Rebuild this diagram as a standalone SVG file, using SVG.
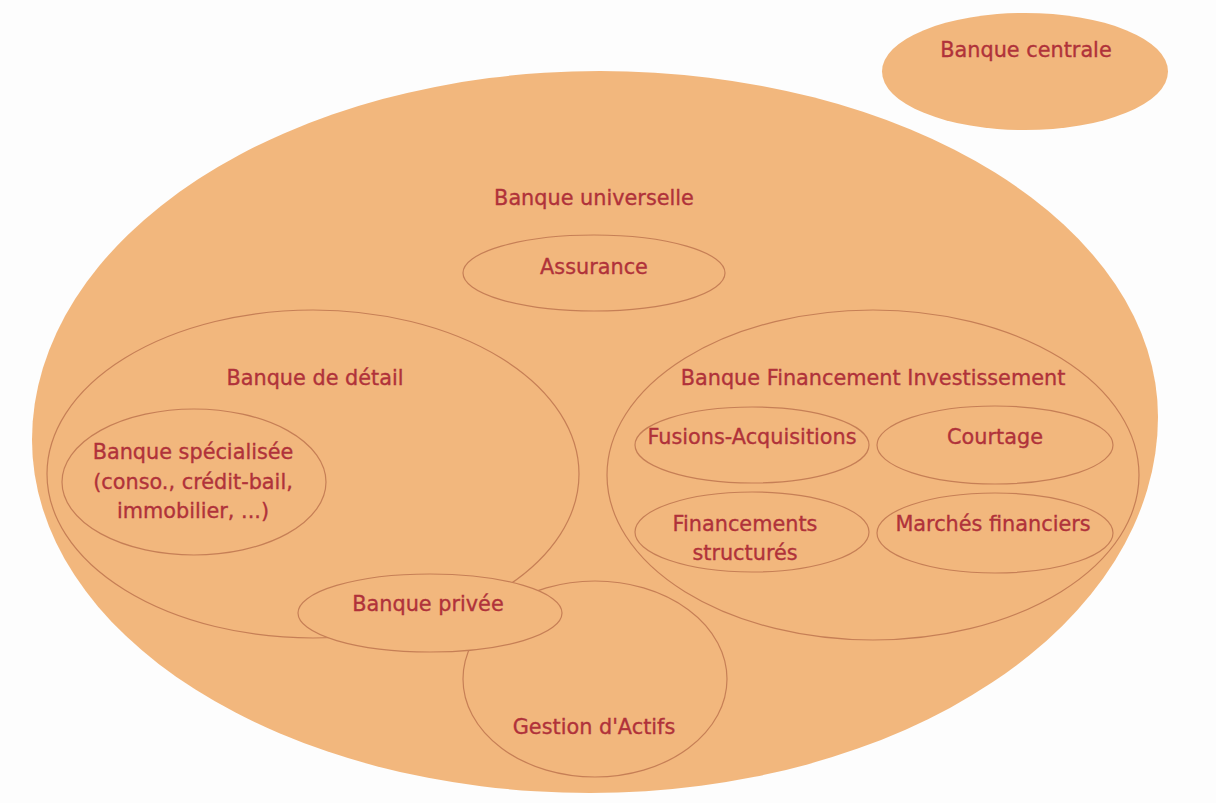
<svg xmlns="http://www.w3.org/2000/svg" width="1216" height="803" viewBox="0 0 1216 803">
<style>
.bg{fill:#f2b77d;}
.n{fill:#f2b77d;stroke:#c67f56;stroke-width:1.2;}
.t{font-family:"DejaVu Sans","Liberation Sans",sans-serif;font-size:20.8px;fill:#b0323a;stroke:#b0323a;stroke-width:0.35;text-anchor:middle;}
</style>
<rect width="1216" height="803" fill="#fdfdfd"/>
<g id="banque-universelle">
<path class="bg" d="M 600 71 A 558 346 0 0 1 1158 417 A 568 376 0 0 1 590 793 A 558 353 0 0 1 32 440 A 568 369 0 0 1 600 71 Z"/>
<text class="t" x="594" y="205">Banque universelle</text>
</g>
<g id="banque-centrale">
<ellipse class="bg" cx="1025" cy="71.5" rx="143" ry="58.5"/>
<text class="t" x="1026" y="57">Banque centrale</text>
</g>
<g id="assurance">
<ellipse class="n" cx="594" cy="273" rx="131" ry="38"/>
<text class="t" x="594" y="274">Assurance</text>
</g>
<g id="banque-detail">
<ellipse class="n" cx="313" cy="474" rx="266" ry="164"/>
<text class="t" x="315" y="385">Banque de détail</text>
</g>
<g id="banque-specialisee">
<ellipse class="n" cx="194" cy="482" rx="132" ry="73"/>
<text class="t" x="193" y="459">Banque spécialisée</text>
<text class="t" x="193" y="489">(conso., crédit-bail,</text>
<text class="t" x="193" y="518">immobilier, ...)</text>
</g>
<g id="bfi">
<ellipse class="n" cx="873" cy="475" rx="266" ry="165"/>
<text class="t" x="873" y="385">Banque Financement Investissement</text>
</g>
<g id="fusions">
<ellipse class="n" cx="752" cy="445" rx="117" ry="38"/>
<text class="t" x="752" y="444">Fusions-Acquisitions</text>
</g>
<g id="courtage">
<ellipse class="n" cx="995" cy="445" rx="118" ry="39"/>
<text class="t" x="995" y="444">Courtage</text>
</g>
<g id="financements">
<ellipse class="n" cx="752" cy="532" rx="117" ry="40"/>
<text class="t" x="745" y="531">Financements</text>
<text class="t" x="745" y="560">structurés</text>
</g>
<g id="marches">
<ellipse class="n" cx="995" cy="533" rx="118" ry="40"/>
<text class="t" x="993" y="531">Marchés financiers</text>
</g>
<g id="gestion">
<ellipse class="n" cx="595" cy="679" rx="132" ry="98"/>
<text class="t" x="594" y="734">Gestion d'Actifs</text>
</g>
<g id="banque-privee">
<ellipse class="n" cx="430" cy="613" rx="132" ry="39"/>
<text class="t" x="428" y="611">Banque privée</text>
</g>
<g id="connectors"></g>
</svg>
